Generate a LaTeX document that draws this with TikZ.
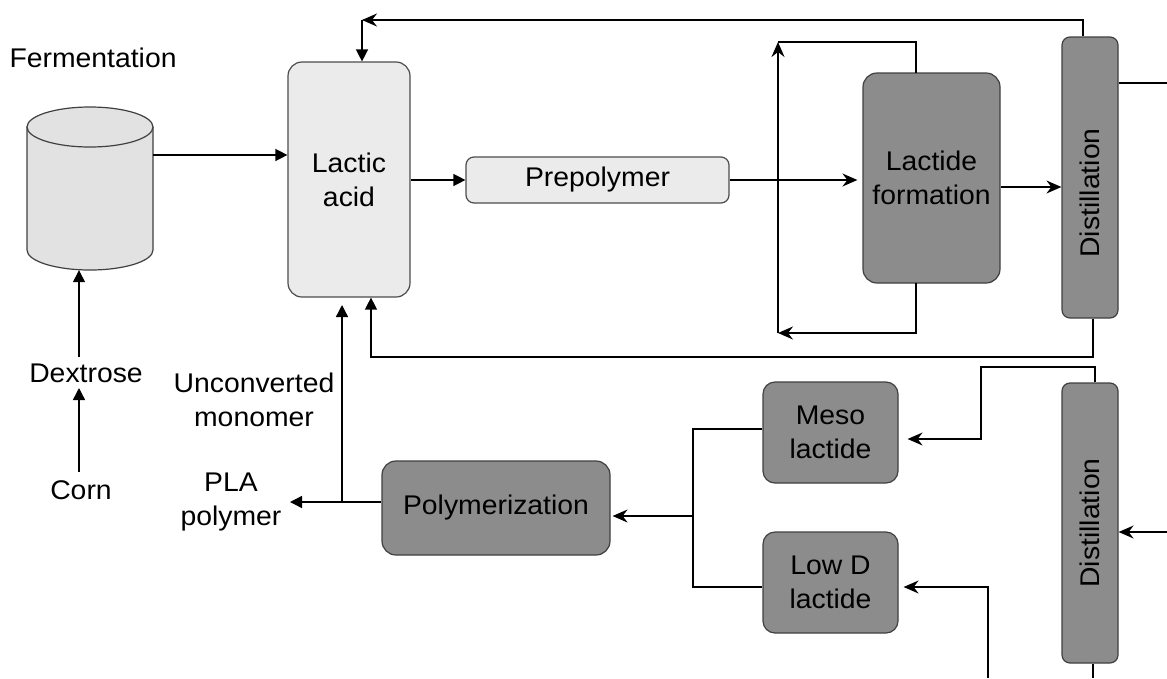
\documentclass[tikz,border=0pt]{standalone}
\usepackage{fontspec}
\setmainfont[FakeStretch=1.05]{Liberation Sans}
\usetikzlibrary{arrows.meta,calc}
\definecolor{lightbox}{HTML}{EBEBEB}
\definecolor{tankfill}{HTML}{E2E2E2}
\definecolor{darkbox}{HTML}{8C8C8C}
\tikzset{
  every node/.style={font=\fontsize{27}{34}\selectfont, align=center},
  conn/.style={line width=1.4pt},
  tri/.style={conn,-{Triangle[length=12pt,width=12pt]}},
  stl/.style={conn,-{Stealth[length=15pt,width=13pt,inset=5pt]}},
  lbox/.style={draw=black!70, line width=1.2pt, fill=lightbox, rounded corners=14pt, inner sep=0pt},
  dbox/.style={draw=black!75, line width=1.2pt, fill=darkbox, rounded corners=14pt, inner sep=0pt},
  tankline/.style={draw=black!75, line width=1.2pt, fill=tankfill},
}
\begin{document}
\begin{tikzpicture}[x=1pt,y=-1pt]
\useasboundingbox (0,0) rectangle (1167,678);
% labels
\node[anchor=west] (ferm) at (6,58) {Fermentation};
\node (dex) at (86,373) {Dextrose};
\node (corn) at (81,490) {Corn};
\node (unc) at (254,400) {Unconverted\\monomer};
\node (pla) at (231,502) {PLA\\polymer};
% tank
\node[minimum width=126pt,minimum height=165pt,inner sep=0pt] (tank) at (90,187.5) {};
\draw[tankline] (27,127) -- (27,250) arc[start angle=180,end angle=360,x radius=63pt,y radius=20pt] -- (153,127) -- cycle;
\draw[tankline] (90,127) ellipse[x radius=63pt,y radius=20pt];
% boxes
\node[lbox, minimum width=122pt, minimum height=235pt] (la) at (349,179.5) {Lactic\\acid};
\node[lbox, minimum width=263pt, minimum height=46pt, rounded corners=8pt] (pre) at (597.5,180) {Prepolymer};
\node[dbox, minimum width=137pt, minimum height=210pt] (lf) at (931.5,178) {Lactide\\formation};
\node[dbox, minimum width=56pt, minimum height=281pt, rounded corners=8pt] (d1) at (1090,177.5) {};
\node[rotate=90] (d1t) at (1090,193) {Distillation};
\node[dbox, minimum width=56pt, minimum height=280pt, rounded corners=8pt] (d2) at (1090,523) {};
\node[rotate=90] (d2t) at (1090,523) {Distillation};
\node[dbox, minimum width=135pt, minimum height=101pt, rounded corners=12pt] (meso) at (830.5,432.5) {Meso\\lactide};
\node[dbox, minimum width=135pt, minimum height=101pt, rounded corners=12pt] (lowd) at (830.5,582.5) {Low D\\lactide};
\node[dbox, minimum width=228pt, minimum height=94pt] (poly) at (496,508) {Polymerization};
% coordinates
\coordinate (c1) at (79,472); \coordinate (c2) at (79,388);
\coordinate (c3) at (79,357);
\coordinate (lfbot) at (916,283); \coordinate (lftop) at (916,73);
\coordinate (lb) at (778,333); \coordinate (lt) at (778,42);
\coordinate (tr) at (1083,20); \coordinate (tl) at (362,20);
\coordinate (out1) at (1167,83);
\coordinate (rb) at (1093,357); \coordinate (rl) at (371,357);
\coordinate (m1) at (1095,367); \coordinate (m2) at (981,367); \coordinate (m3) at (981,439);
\coordinate (in2) at (1167,532);
\coordinate (b2) at (1093,678);
\coordinate (l1) at (988,678); \coordinate (l2) at (988,587);
\coordinate (jt) at (693,429); \coordinate (jb) at (693,587); \coordinate (j) at (693,516);
\coordinate (pl) at (290,502); \coordinate (pj) at (342,502); \coordinate (pu) at (342,305);
% connectors
\draw[tri] (c1) -- (c2);
\draw[tri] (c3) -- (c3 |- tank.south);
\draw[tri] (tank.east |- 0,155) -- (la.west |- 0,155);
\draw[tri] (la.east |- pre.west) -- (pre.west);
\draw[stl, shorten >=5pt] (pre.east) -- (lf.west |- pre.east);
\draw[stl] (lfbot) |- (lb);
\draw[stl] (lb) -- (lt);
\draw[conn] (lt) -| (lftop);
\draw[stl] (lf.east |- 0,187) -- (d1.west |- 0,187);
\draw[stl] (tr |- d1.north) -- (tr) -- (tl);
\draw[tri] (tl) -- (tl |- la.north);
\draw[conn] (d1.east |- out1) -- (out1);
\draw[tri] (rb |- d1.south) -- (rb) -- (rl) -- (rl |- la.south);
\draw[stl, shorten >=9pt] (m1 |- d2.north) -- (m1) -- (m2) -- (m3) -- (meso.east |- m3);
\draw[stl] (in2) -- (d2.east |- in2);
\draw[conn] (b2 |- d2.south) -- (b2);
\draw[stl, shorten >=5pt] (l1) -- (l2) -- (lowd.east |- l2);
\draw[conn] (meso.west |- jt) -- (jt) -- (jb) -- (lowd.west |- jb);
\draw[stl, shorten >=2pt] (j) -- (poly.east |- j);
\draw[tri] (poly.west |- pl) -- (pl);
\draw[tri] (pj) -- (pu);
\end{tikzpicture}
\end{document}
